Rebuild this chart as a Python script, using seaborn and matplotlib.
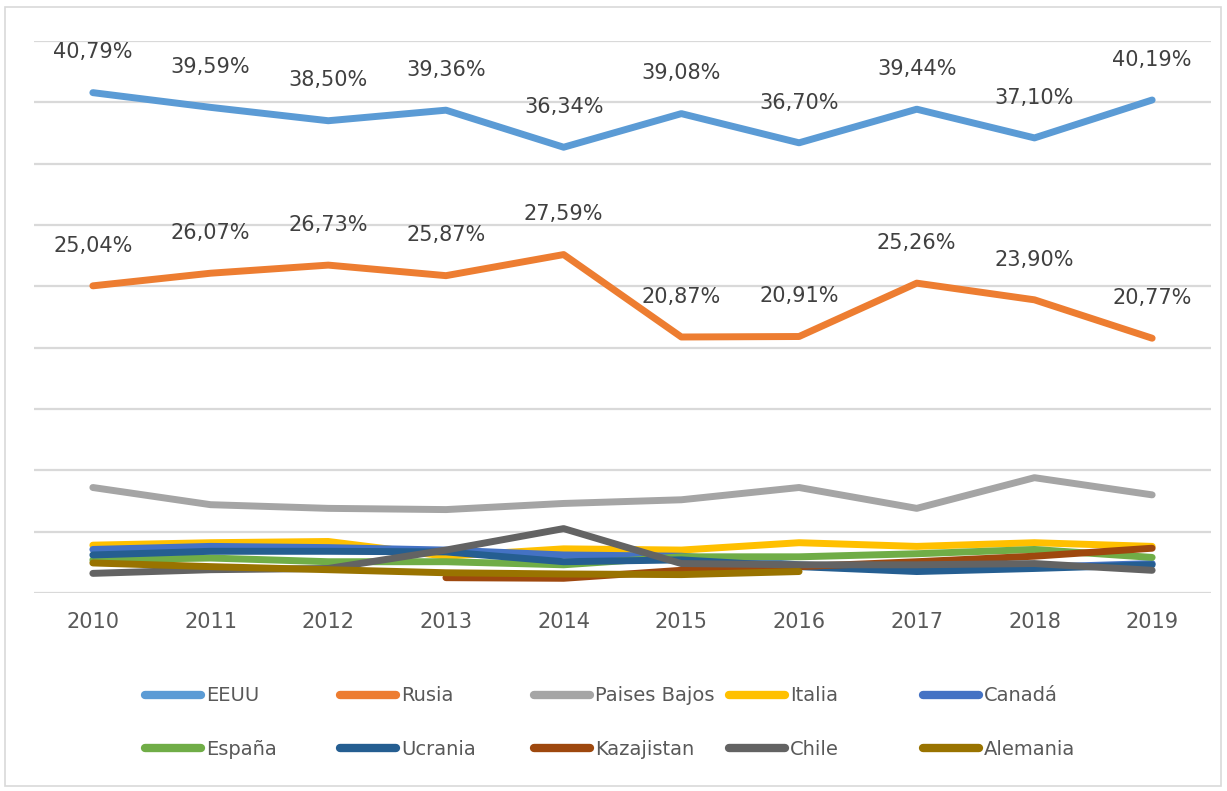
import matplotlib.pyplot as plt
import matplotlib.patches as mpatches
from matplotlib.lines import Line2D
import seaborn as sns
import numpy as np
import pandas as pd

years = [2010, 2011, 2012, 2013, 2014, 2015, 2016, 2017, 2018, 2019]

eeuu = [40.79, 39.59, 38.50, 39.36, 36.34, 39.08, 36.70, 39.44, 37.10, 40.19]
rusia = [25.04, 26.07, 26.73, 25.87, 27.59, 20.87, 20.91, 25.26, 23.90, 20.77]
paises_bajos = [8.6, 7.2, 6.9, 6.8, 7.3, 7.6, 8.6, 6.9, 9.4, 8.0]
italia = [3.9, 4.1, 4.2, 3.0, 3.6, 3.5, 4.1, 3.8, 4.1, 3.8]
canada = [3.55, 3.8, 3.7, 3.5, 3.1, 3.0, 2.3, 1.9, 2.1, 2.4]
espana = [2.7, 2.85, 2.55, 2.55, 2.3, 2.95, 2.95, 3.2, 3.55, 2.9]
ucrania = [3.1, 3.4, 3.4, 3.35, 2.55, 2.7, 2.15, 1.75, 2.0, 2.3]
kazajistan = [np.nan, np.nan, np.nan, 1.25, 1.2, 1.85, 2.15, 2.55, 3.0, 3.65]
chile = [1.6, 1.9, 2.0, 3.5, 5.25, 2.4, 2.3, 2.3, 2.4, 1.85]
alemania = [2.45, 2.15, 1.9, 1.65, 1.55, 1.5, 1.75, np.nan, np.nan, np.nan]

names = ["EEUU", "Rusia", "Paises Bajos", "Italia", "Canadá",
         "España", "Ucrania", "Kazajistan", "Chile", "Alemania"]
colors = ["#5B9BD5", "#ED7D31", "#A5A5A5", "#FFC000", "#4472C4",
          "#70AD47", "#255E91", "#9E480E", "#636363", "#997300"]
series = [eeuu, rusia, paises_bajos, italia, canada,
          espana, ucrania, kazajistan, chile, alemania]

rows = []
for name, vals in zip(names, series):
    for y, v in zip(years, vals):
        rows.append({"year": y, "pais": name, "valor": v})
df = pd.DataFrame(rows).dropna()

sns.set_style("white")
plt.rcParams['font.family'] = ['DejaVu Sans']

fig = plt.figure(figsize=(12.27, 7.91), dpi=100)
ax = fig.add_axes([34 / 1227, 1 - 593 / 791, 1177 / 1227, 552 / 791])

sns.lineplot(data=df, x="year", y="valor", hue="pais", hue_order=names,
             palette=dict(zip(names, colors)), linewidth=5, ax=ax,
             legend=False, sort=True, solid_capstyle="round")

# etiquetas de datos para EEUU y Rusia
for vals in [eeuu, rusia]:
    for y, v in zip(years, vals):
        ax.annotate(f"{v:.2f}%".replace(".", ","), (y, v), xytext=(0, 29),
                    textcoords="offset points", ha="center", va="center",
                    fontsize=15, color="#404040")

ax.set_xlim(2009.5, 2019.5)
ax.set_ylim(0, 45)
ax.set_yticks(np.arange(0, 46, 5))
ax.set_yticklabels([])
ax.set_xticks(years)
ax.set_xticklabels([str(y) for y in years], fontsize=15, color="#595959")
ax.tick_params(axis="x", length=0, pad=14)
ax.tick_params(axis="y", length=0)
ax.yaxis.grid(True, color="#D9D9D9", linewidth=1.6)
ax.set_axisbelow(True)
ax.set_xlabel("")
ax.set_ylabel("")
for s in ax.spines.values():
    s.set_visible(False)

# leyenda en columnas de ancho fijo, como en Excel
for j in range(5):
    handles = [Line2D([0], [0], color=colors[i], lw=6, solid_capstyle="round")
               for i in (j, j + 5)]
    leg = fig.legend(handles, [names[j], names[j + 5]], loc="center left",
                     bbox_to_anchor=((145 + j * 194.5) / 1227, 1 - 722.5 / 791),
                     frameon=False, fontsize=14, handlelength=2.9,
                     handletextpad=0.25, borderpad=0, borderaxespad=0,
                     labelspacing=1.75, labelcolor="#595959")

fig.patches.append(mpatches.Rectangle((5 / 1227, 1 - 786 / 791), 1216 / 1227, 779 / 791,
                                      transform=fig.transFigure, fill=False,
                                      edgecolor="#D9D9D9", linewidth=1.2))

plt.savefig("out.png", dpi=100)
